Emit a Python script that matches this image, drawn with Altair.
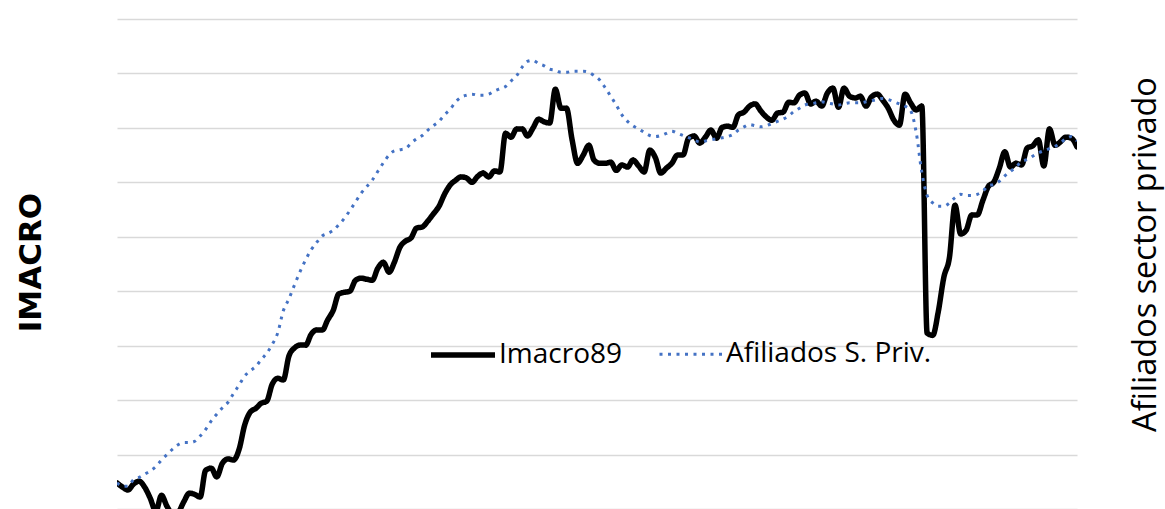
import altair as alt
import pandas as pd

# Monthly observations, Jan 2008 - Jun 2022
fechas = pd.date_range("2008-01-01", periods=174, freq="MS").strftime("%Y-%m-%d").tolist()

imacro89 = [
    84.8, 84.0, 83.5, 84.6, 85.1, 84.0, 82.0, 79.6, 82.5, 80.5,
    79.1, 79.4, 81.3, 82.9, 82.7, 82.2, 87.1, 87.5, 85.9, 88.4,
    89.2, 89.0, 91.0, 95.4, 97.8, 98.5, 99.4, 99.8, 102.9, 104.0,
    103.7, 108.1, 109.6, 110.1, 110.1, 112.1, 112.9, 112.9, 114.7, 116.5,
    119.5, 119.8, 120.0, 122.0, 122.4, 122.2, 122.0, 124.2, 125.3, 123.5,
    125.3, 128.1, 129.2, 129.8, 131.6, 131.8, 132.9, 134.2, 135.6, 137.8,
    139.5, 140.4, 141.0, 140.8, 140.0, 141.1, 141.7, 141.0, 142.1, 141.9,
    149.0, 148.3, 149.8, 149.8, 148.5, 150.0, 151.6, 151.1, 150.9, 157.1,
    153.6, 153.6, 147.8, 143.5, 145.0, 146.8, 144.1, 143.5, 143.5, 143.7,
    142.2, 143.2, 142.8, 144.1, 143.0, 141.9, 145.9, 144.5, 141.7, 142.6,
    143.5, 145.0, 145.0, 148.1, 148.5, 147.2, 148.3, 149.6, 148.1, 150.1,
    150.3, 150.1, 152.4, 152.9, 154.0, 154.4, 153.1, 152.0, 151.4, 152.7,
    152.9, 154.7, 154.6, 156.0, 156.4, 154.4, 154.9, 154.0, 156.4, 157.3,
    153.8, 157.3, 155.8, 155.5, 155.8, 154.0, 155.7, 156.2, 155.1, 153.6,
    151.4, 150.5, 156.2, 154.6, 153.3, 154.0, 112.3, 111.9, 116.2, 122.6,
    126.1, 135.8, 130.5, 131.2, 134.0, 134.0, 136.7, 139.3, 140.0, 142.6,
    145.6, 142.8, 143.5, 143.2, 146.3, 146.7, 147.8, 143.0, 149.8, 146.8,
    147.4, 148.3, 148.1, 146.5,
]

# Private-sector affiliates, thousands
afiliados = [
    924, 921, 921, 927, 929, 932, 935, 939, 945, 950,
    955, 959, 961, 961, 962, 967, 973, 981, 987, 993,
    998, 1006, 1014, 1022, 1027, 1031, 1037, 1043, 1051, 1062,
    1082, 1093, 1106, 1118, 1129, 1138, 1145, 1151, 1153, 1156,
    1161, 1167, 1174, 1182, 1190, 1196, 1202, 1210, 1218, 1225,
    1229, 1230, 1231, 1236, 1240, 1243, 1248, 1252, 1256, 1262,
    1267, 1274, 1278, 1280, 1281, 1280, 1280, 1281, 1284, 1286,
    1288, 1293, 1298, 1306, 1311, 1312, 1309, 1307, 1304, 1303,
    1301, 1301, 1302, 1302, 1302, 1301, 1298, 1294, 1287, 1279,
    1271, 1262, 1256, 1252, 1249, 1246, 1243, 1242, 1243, 1245,
    1247, 1245, 1243, 1241, 1239, 1237, 1238, 1239, 1240, 1241,
    1242, 1244, 1248, 1251, 1253, 1252, 1251, 1252, 1254, 1256,
    1258, 1261, 1265, 1268, 1271, 1272, 1273, 1274, 1273, 1272,
    1271, 1272, 1273, 1273, 1273, 1274, 1275, 1276, 1277, 1276,
    1274, 1272, 1270, 1266, 1246, 1209, 1188, 1181, 1178, 1178,
    1181, 1186, 1189, 1188, 1188, 1189, 1192, 1197, 1198, 1201,
    1206, 1210, 1214, 1219, 1221, 1224, 1227, 1229, 1231, 1233,
    1236, 1240, 1242, 1238,
]

series = ["Imacro89", "Afiliados S. Priv."]
colores = ["#000000", "#4472C4"]
trazos = [[1, 0], [3, 5.5]]
grosores = [5.5, 3]

df = pd.DataFrame({"fecha": fechas, "imacro": imacro89, "afiliados": afiliados})

leyenda = alt.Legend(
    title=None,
    orient="none",
    legendX=311,
    legendY=301,
    direction="horizontal",
    symbolType="stroke",
    symbolSize=4096,
    labelFont="Open Sans",
    labelFontSize=28,
    labelColor="#000000",
    labelOffset=1,
    labelLimit=400,
    columnPadding=30,
    padding=0,
    offset=0,
)

color_enc = alt.Color("serie:N", scale=alt.Scale(domain=series, range=colores), legend=leyenda)
dash_enc = alt.StrokeDash("serie:N", scale=alt.Scale(domain=series, range=trazos), legend=leyenda)
width_enc = alt.StrokeWidth("serie:N", scale=alt.Scale(domain=series, range=grosores), legend=leyenda)

x_enc = alt.X("fecha:T", axis=None, scale=alt.Scale(nice=False))

base = alt.Chart(df)

linea_imacro = base.transform_calculate(serie="'Imacro89'").mark_line(
    clip=True, interpolate="monotone", strokeJoin="round", strokeCap="round"
).encode(
    x=x_enc,
    y=alt.Y(
        "imacro:Q",
        scale=alt.Scale(domain=[80, 170], nice=False, zero=False),
        axis=alt.Axis(
            values=list(range(80, 171, 10)),
            labels=False, ticks=False, domain=False,
            grid=True, gridColor="#D9D9D9", gridWidth=1.3,
            title="IMACRO",
            titleFont="DejaVu Sans", titleFontSize=31, titleFontWeight="bold",
            titleColor="#000000", titleAngle=270,
            titleX=-77, titleY=243, titleAlign="center", titleBaseline="alphabetic",
        ),
    ),
    color=color_enc,
    strokeDash=dash_enc,
    strokeWidth=width_enc,
)

linea_afiliados = base.transform_calculate(serie="'Afiliados S. Priv.'").mark_line(
    clip=True, interpolate="monotone", strokeJoin="round"
).encode(
    x=x_enc,
    y=alt.Y(
        "afiliados:Q",
        scale=alt.Scale(domain=[900, 1350], nice=False, zero=False),
        axis=alt.Axis(
            orient="right",
            labels=False, ticks=False, domain=False, grid=False,
            title="Afiliados sector privado",
            titleFont="Open Sans", titleFontSize=32.5, titleFontWeight="normal",
            titleColor="#000000", titleAngle=270,
            titleX=78, titleY=235, titleAlign="center", titleBaseline="alphabetic",
        ),
    ),
    color=color_enc,
    strokeDash=dash_enc,
    strokeWidth=width_enc,
)

chart = (
    alt.layer(linea_imacro, linea_afiliados)
    .resolve_scale(y="independent")
    .properties(
        width=960,
        height=490,
        padding={"left": 117, "top": 19, "right": 88, "bottom": 0},
        autosize=alt.AutoSizeParams(type="none"),
        background="#FFFFFF",
    )
    .configure_view(stroke=None)
)

chart.save("out.html", embed_options={"renderer": "svg", "actions": False})
